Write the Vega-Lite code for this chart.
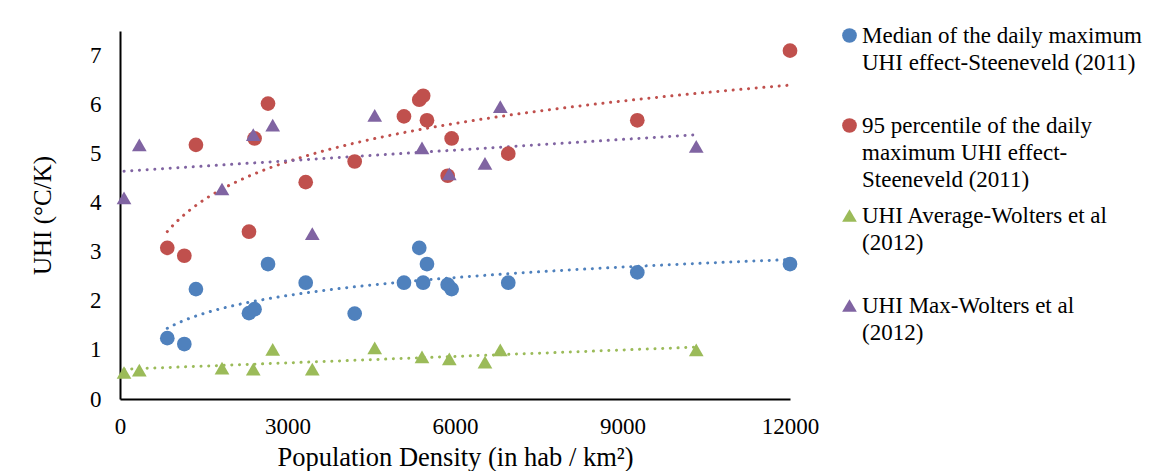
{
  "$schema": "https://vega.github.io/schema/vega-lite/v6.json",
  "width": 670,
  "height": 368,
  "autosize": {"type": "none"},
  "padding": {"left": 120, "top": 31, "right": 368, "bottom": 72},
  "background": "white",
  "config": {
    "view": {"stroke": null},
    "font": "Liberation Serif",
    "axis": {
      "grid": false,
      "ticks": false,
      "domainColor": "black",
      "domainWidth": 2,
      "labelFont": "Liberation Serif",
      "titleFont": "Liberation Serif",
      "labelFontSize": 23,
      "titleFontSize": 26.5,
      "titleFontWeight": "normal",
      "labelColor": "black",
      "titleColor": "black",
      "labelFlush": false
    },
    "legend": {
      "labelFont": "Liberation Serif",
      "labelFontSize": 23,
      "labelColor": "black",
      "labelLimit": 400,
      "padding": 0
    },
    "line": {"strokeWidth": 3, "strokeCap": "round", "strokeDash": [0.1, 7.6]}
  },
  "data": {
    "values": [
      {"series": "Median", "x": 847, "y": 1.24},
      {"series": "Median", "x": 1152, "y": 1.12},
      {"series": "Median", "x": 1360, "y": 2.24},
      {"series": "Median", "x": 2310, "y": 1.75},
      {"series": "Median", "x": 2410, "y": 1.83},
      {"series": "Median", "x": 2651, "y": 2.75},
      {"series": "Median", "x": 3326, "y": 2.37},
      {"series": "Median", "x": 4203, "y": 1.74},
      {"series": "Median", "x": 5086, "y": 2.37},
      {"series": "Median", "x": 5360, "y": 3.08},
      {"series": "Median", "x": 5430, "y": 2.37},
      {"series": "Median", "x": 5498, "y": 2.75},
      {"series": "Median", "x": 5869, "y": 2.33},
      {"series": "Median", "x": 5940, "y": 2.24},
      {"series": "Median", "x": 6954, "y": 2.37},
      {"series": "Median", "x": 9265, "y": 2.58},
      {"series": "Median", "x": 12000, "y": 2.75},
      {"series": "P95", "x": 847, "y": 3.08},
      {"series": "P95", "x": 1152, "y": 2.92},
      {"series": "P95", "x": 1360, "y": 5.18},
      {"series": "P95", "x": 2310, "y": 3.41},
      {"series": "P95", "x": 2410, "y": 5.31},
      {"series": "P95", "x": 2651, "y": 6.02},
      {"series": "P95", "x": 3326, "y": 4.42},
      {"series": "P95", "x": 4203, "y": 4.84},
      {"series": "P95", "x": 5086, "y": 5.76},
      {"series": "P95", "x": 5360, "y": 6.10},
      {"series": "P95", "x": 5430, "y": 6.18},
      {"series": "P95", "x": 5498, "y": 5.68},
      {"series": "P95", "x": 5869, "y": 4.55},
      {"series": "P95", "x": 5940, "y": 5.31},
      {"series": "P95", "x": 6954, "y": 5.00},
      {"series": "P95", "x": 9265, "y": 5.68},
      {"series": "P95", "x": 12000, "y": 7.10},
      {"series": "Avg", "x": 72, "y": 0.54},
      {"series": "Avg", "x": 346, "y": 0.59},
      {"series": "Avg", "x": 1827, "y": 0.63},
      {"series": "Avg", "x": 2387, "y": 0.61},
      {"series": "Avg", "x": 2735, "y": 1.01},
      {"series": "Avg", "x": 3444, "y": 0.61},
      {"series": "Avg", "x": 4562, "y": 1.04},
      {"series": "Avg", "x": 5409, "y": 0.86},
      {"series": "Avg", "x": 5898, "y": 0.82},
      {"series": "Avg", "x": 6537, "y": 0.75},
      {"series": "Avg", "x": 6811, "y": 1.00},
      {"series": "Avg", "x": 10321, "y": 1.00},
      {"series": "Max", "x": 72, "y": 4.10},
      {"series": "Max", "x": 346, "y": 5.18},
      {"series": "Max", "x": 1827, "y": 4.28},
      {"series": "Max", "x": 2387, "y": 5.39},
      {"series": "Max", "x": 2735, "y": 5.58},
      {"series": "Max", "x": 3444, "y": 3.37},
      {"series": "Max", "x": 4562, "y": 5.78},
      {"series": "Max", "x": 5409, "y": 5.12},
      {"series": "Max", "x": 5898, "y": 4.59},
      {"series": "Max", "x": 6537, "y": 4.80},
      {"series": "Max", "x": 6811, "y": 5.96},
      {"series": "Max", "x": 10321, "y": 5.15}
    ]
  },
  "encoding": {
    "x": {"field": "x", "type": "quantitative", "scale": {"domain": [0, 12000], "nice": false},
      "axis": {"title": "Population Density (in hab / km²)", "values": [0, 3000, 6000, 9000, 12000], "format": "d", "labelPadding": 16, "titlePadding": 6}},
    "y": {"field": "y", "type": "quantitative", "scale": {"domain": [0, 7.5], "nice": false},
      "axis": {"title": "UHI (°C/K)", "values": [0, 1, 2, 3, 4, 5, 6, 7], "labelPadding": 19, "titlePadding": 34, "titleFontSize": 25}}
  },
  "layer": [
    {
      "transform": [{"filter": "datum.series == 'Median'"}, {"regression": "y", "on": "x", "method": "log"}],
      "mark": {"type": "line", "color": "#4F81BD"},
      "encoding": {}
    },
    {
      "transform": [{"filter": "datum.series == 'P95'"}, {"regression": "y", "on": "x", "method": "log"}],
      "mark": {"type": "line", "color": "#C0504D"},
      "encoding": {}
    },
    {
      "transform": [{"filter": "datum.series == 'Avg'"}, {"regression": "y", "on": "x", "method": "linear"}],
      "mark": {"type": "line", "color": "#9BBB59"},
      "encoding": {}
    },
    {
      "transform": [{"filter": "datum.series == 'Max'"}, {"regression": "y", "on": "x", "method": "linear"}],
      "mark": {"type": "line", "color": "#8064A2"},
      "encoding": {}
    },
    {
      "mark": {"type": "point", "filled": true, "opacity": 1, "size": 216},
      "encoding": {
        "color": {
          "field": "series", "type": "nominal",
          "scale": {"domain": ["Median", "P95", "Avg", "Max"], "range": ["#4F81BD", "#C0504D", "#9BBB59", "#8064A2"]},
          "legend": {
            "title": null, "orient": "none", "legendX": 718, "legendY": -7,
            "symbolSize": 216, "symbolOpacity": 1, "labelOffset": 1, "rowPadding": 12, "labelBaseline": "top",
            "encode": {"labels": {"update": {"dy": {"value": -11}, "lineHeight": {"value": 27}}}},
            "labelExpr": "datum.value == 'Median' ? ['Median of the daily maximum', 'UHI effect-Steeneveld (2011)', ''] : datum.value == 'P95' ? ['95 percentile of the daily', 'maximum UHI effect-', 'Steeneveld (2011)'] : datum.value == 'Avg' ? ['UHI Average-Wolters et al', '(2012)', ''] : ['UHI Max-Wolters et al', '(2012)']"
          }
        },
        "shape": {
          "field": "series", "type": "nominal",
          "scale": {"domain": ["Median", "P95", "Avg", "Max"], "range": ["circle", "circle", "triangle-up", "triangle-up"]}
        }
      }
    }
  ]
}
